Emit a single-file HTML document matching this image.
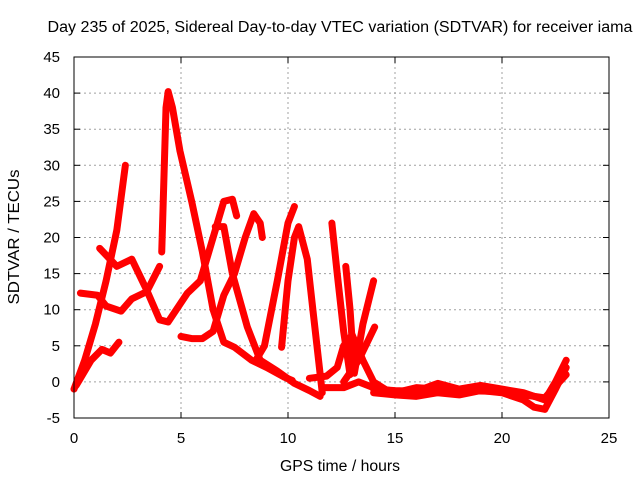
<!DOCTYPE html>
<html><head><meta charset="utf-8"><style>
body{margin:0;background:#fff}
svg{display:block;font-family:"Liberation Sans",sans-serif}
</style></head><body>
<svg id="chart" width="640" height="480" viewBox="0 0 640 480">
<text x="340" y="32" font-size="15.5" text-anchor="middle" textLength="585" lengthAdjust="spacingAndGlyphs">Day 235 of 2025, Sidereal Day-to-day VTEC variation (SDTVAR) for receiver iama</text>
<text x="340" y="471" font-size="15.5" text-anchor="middle" textLength="120" lengthAdjust="spacingAndGlyphs">GPS time / hours</text>
<text x="19" y="237" font-size="15.5" text-anchor="middle" textLength="135" lengthAdjust="spacingAndGlyphs" transform="rotate(-90 19 237)">SDTVAR / TECUs</text>
<g id="grid"></g>
<g id="ticks"></g>
<g id="series"></g>
<rect x="74" y="57" width="535" height="361" fill="none" stroke="#000" stroke-width="1"/>
</svg>
<script>
const xTicks=[0,5,10,15,20,25];
const yTicks=[-5,0,5,10,15,20,25,30,35,40,45];
const track1=[[0,-1],[0.5,3],[1,8],[1.5,14],[2,21],[2.4,30]];
const track2=[[0.1,-0.5],[0.8,3],[1.3,4.5],[1.7,4],[2.1,5.5]];
const track3=[[0.3,12.3],[1.1,12],[1.5,10.5],[2.2,9.8],[2.7,11.5],[3.4,12.5],[4.0,16]];
const track4=[[1.2,18.5],[2.0,16],[2.7,17],[3.4,12.7],[4.0,8.6],[4.4,8.3],[5.3,12.3],[5.9,14],[6.5,20],[7.0,25],[7.4,25.3],[7.6,23]];
const track5=[[4.1,18],[4.3,38],[4.4,40.2],[4.6,38],[4.95,32],[5.5,25],[6.0,18],[6.5,10],[7.0,5.5],[7.5,4.8],[8.3,3],[9,2],[9.8,0.7],[10.2,0.2]];
const track6=[[5.0,6.3],[5.5,6],[6.0,6],[6.5,7],[7.0,12],[7.5,15],[8.0,20],[8.4,23.3],[8.7,22],[8.8,20]];
const track7=[[6.6,21.5],[7.0,21.5],[7.4,15],[8.1,7.6],[8.7,3],[9.5,1.5],[10.3,-0.2],[11.0,-1.2],[11.5,-2]];
const track8=[[8.5,3],[8.9,5],[9.5,14],[10.0,22],[10.3,24.3]];
const track9=[[9.7,4.8],[10.0,14],[10.3,20],[10.5,21.5],[10.9,17],[11.2,9],[11.6,-1.5]];
const track10=[[12.05,22],[12.3,15],[12.6,7],[12.75,4],[12.9,1]];
const track11=[[12.7,16],[12.9,10],[13.1,1.2],[13.5,8],[14,14]];
const track12=[[12.6,0],[13.3,3],[14.05,7.6]];
const track13=[[11,0.5],[11.8,0.8],[12.3,2],[12.6,5],[13,6.5],[13.5,3],[14,0],[14.8,-1.5]];
const track14=[[11.7,-0.8],[12.6,-0.8],[13.3,0],[14,-0.8],[15,-1.3]];
const band1=[[14,-1],[15,-1.2],[16,-1.3],[17,-0.2],[18,-1],[19,-0.5],[20,-1],[21,-1.5],[21.5,-2],[22,-2.5],[22.5,0],[23,3]];
const band2=[[14,-1.5],[15,-1.8],[16,-2],[17,-1.5],[18,-1.8],[19,-1.2],[20,-1.5],[21,-2.5],[21.5,-3.5],[22,-3.8],[22.5,-1],[23,2]];
const band3=[[15,-1.5],[16,-0.8],[17,-1],[18,-1.2],[19.5,-1.3],[21,-1.8],[22,-2.2],[23,1]];
const tracks=[track1,track2,track3,track4,track5,track6,track7,track8,track9,track10,track11,track12,track13,track14,band1,band2,band3];

const NS="http://www.w3.org/2000/svg";
const X0=74,X1=609,Y0=418,Y1=57;
function sx(h){return X0+(h-0)/(25-0)*(X1-X0);}
function sy(v){return Y0-(v+5)/(45+5)*(Y0-Y1);}
const grid=document.getElementById('grid'),ticks=document.getElementById('ticks'),svg=document.getElementById('chart');
function mk(tag,attrs,parent){const e=document.createElementNS(NS,tag);for(const k in attrs)e.setAttribute(k,attrs[k]);parent.appendChild(e);return e;}
xTicks.forEach(t=>{
  const x=sx(t);
  if(t>0&&t<25){const g=mk('line',{x1:x,y1:Y1,x2:x,y2:Y0,stroke:'#a0a0a0','stroke-dasharray':'2,3'},grid);
  
  }
  mk('line',{x1:x,y1:Y0,x2:x,y2:Y0-6,stroke:'#000'},ticks);
  mk('line',{x1:x,y1:Y1,x2:x,y2:Y1+6,stroke:'#000'},ticks);
  const l=mk('text',{x:x,y:443,'font-size':15,'text-anchor':'middle'},svg);
  l.textContent=t;
  
  
});
yTicks.forEach(t=>{
  const y=sy(t);
  if(t>-5&&t<45){const g=mk('line',{x1:X0,y1:y,x2:X1,y2:y,stroke:'#a0a0a0','stroke-dasharray':'2,3'},grid);
  
  }
  mk('line',{x1:X0,y1:y,x2:X0+6,y2:y,stroke:'#000'},ticks);
  mk('line',{x1:X1,y1:y,x2:X1-6,y2:y,stroke:'#000'},ticks);
  const l=mk('text',{x:60,y:y+5,'font-size':15,'text-anchor':'end'},svg);
  l.textContent=t;
  
  
});
const series=document.getElementById('series');
tracks.forEach(tr=>{
  const p=mk('polyline',{points:tr.map(d=>sx(d[0])+','+sy(d[1])).join(' '),fill:'none',stroke:'#ff0000','stroke-width':7,'stroke-linejoin':'round','stroke-linecap':'round'},series);
  
  
});
</script>
</body></html>
